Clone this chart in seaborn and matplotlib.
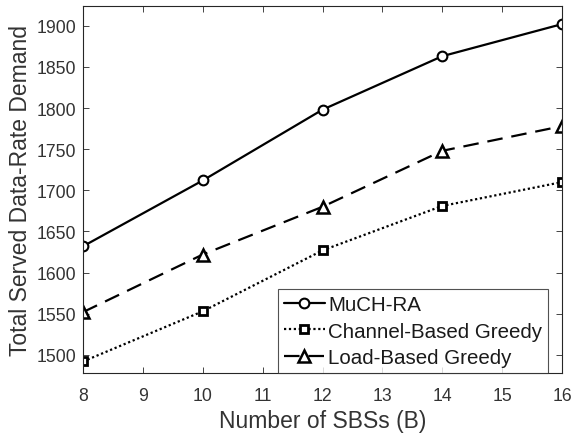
import seaborn as sns
import matplotlib.pyplot as plt
import pandas as pd

# data
num_sbs = [8, 10, 12, 14, 16]
much_ra = [1632, 1712, 1798, 1863, 1902]
channel_greedy = [1492, 1553, 1627, 1681, 1710]
load_greedy = [1552, 1622, 1680, 1748, 1778]

sns.set_style("white")
plt.rcParams['font.family'] = ['Liberation Sans', 'DejaVu Sans']

fig = plt.figure(figsize=(5.71, 4.35), dpi=100)
ax = fig.add_axes([0.1454, 0.1402, 0.8388, 0.8437])

df = pd.DataFrame({'B': num_sbs, 'much': much_ra, 'chan': channel_greedy, 'load': load_greedy})

sns.lineplot(x='B', y='much', data=df, ax=ax, color='black', lw=1.6, marker='o',
             markersize=7, mfc='white', mec='black', mew=1.5, label='MuCH-RA')
sns.lineplot(x='B', y='chan', data=df, ax=ax, color='black', lw=1.6, dashes=(1, 1.2), marker='s',
             markersize=6, mfc='white', mec='black', mew=2, label='Channel-Based Greedy')
sns.lineplot(x='B', y='load', data=df, ax=ax, color='black', lw=1.6, dashes=(7, 4), marker='^',
             markersize=8, mfc='white', mec='black', mew=1.8, label='Load-Based Greedy')

ax.set_xlim(8, 16)
ax.set_ylim(1478, 1924)
ax.set_xticks(range(8, 17))
ax.set_yticks(range(1500, 1901, 50))
ax.tick_params(direction='in', bottom=True, left=True, top=True, right=True, length=4.5, width=0.6,
               labelsize=12.7, labelcolor='#333333', color='#262626')
ax.tick_params(axis='x', pad=10)
ax.tick_params(axis='y', pad=5)
for s in ax.spines.values():
    s.set_color('#262626')
    s.set_linewidth(0.8)

ax.set_xlabel('Number of SBSs (B)', fontsize=16.5, color='#333333', labelpad=4)
ax.set_ylabel('Total Served Data-Rate Demand', fontsize=16.5, color='#333333', labelpad=3)

leg = ax.legend(loc='lower right', bbox_to_anchor=(0.971, 0.0), borderaxespad=0,
                fontsize=14.8, frameon=True, fancybox=False, handlelength=2.0,
                handletextpad=0.15, labelspacing=0.35, borderpad=0.3)
leg.get_frame().set_edgecolor('#262626')
leg.get_frame().set_linewidth(0.8)
for t in leg.get_texts():
    t.set_color('#1a1a1a')

plt.savefig('out.png', dpi=100)
